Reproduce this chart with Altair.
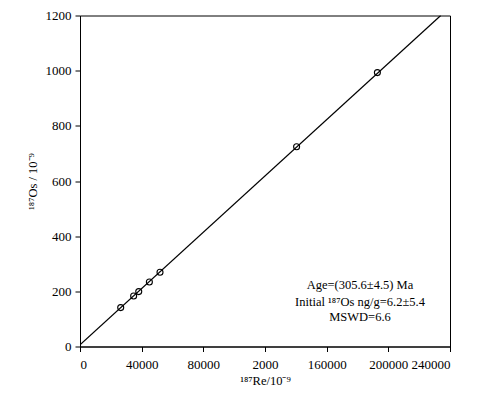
import altair as alt
import pandas as pd

# Sample data (187Re, 187Os), in 10^-9
re187 = [26400, 34800, 38100, 45000, 51900, 140500, 192900]
os187 = [141, 183, 199, 234, 269, 724, 993]

# Isochron line end points
line_x = [0, 234000]
line_y = [6.2, 1200]

# Annotation text
ann_text = ["Age=(305.6±4.5) Ma", "Initial ¹⁸⁷Os ng/g=6.2±5.4", "MSWD=6.6"]
ann_x = [181600, 181600, 181600]
ann_y = [223, 162, 108]

x_ticks = list(range(0, 240001, 20000))
y_ticks = list(range(0, 1201, 100))

pts = pd.DataFrame({"re": re187, "os": os187})
ln = pd.DataFrame({"re": line_x, "os": line_y})
ann = pd.DataFrame({"re": ann_x, "os": ann_y, "t": ann_text})

FONT = "Liberation Serif"

xscale = alt.Scale(domain=[0, 240000], nice=False, zero=True)
yscale = alt.Scale(domain=[0, 1200], nice=False, zero=True)

xaxis = alt.Axis(
    title="¹⁸⁷Re/10⁻⁹",
    values=x_ticks,
    labelExpr="datum.value % 40000 !== 0 ? '' : (datum.value === 120000 ? '2000' : format(datum.value, 'd'))",
    tickSize={"condition": {"test": "datum.value % 40000 === 0", "value": 5}, "value": 3},
    labelPadding=7,
    titlePadding=3,
    grid=False,
)
yaxis = alt.Axis(
    title="¹⁸⁷Os / 10⁻⁹",
    values=y_ticks,
    labelExpr="datum.value % 200 !== 0 ? '' : format(datum.value, 'd')",
    tickSize={"condition": {"test": "datum.value % 200 === 0", "value": 5}, "value": 3},
    labelPadding=4,
    titlePadding=6,
    grid=False,
)

line = alt.Chart(ln).mark_line(color="black", strokeWidth=1.2, clip=True).encode(
    x=alt.X("re:Q", scale=xscale, axis=xaxis),
    y=alt.Y("os:Q", scale=yscale, axis=yaxis),
)
points = alt.Chart(pts).mark_point(
    shape="circle", filled=False, color="black", size=36, strokeWidth=1.1, opacity=1
).encode(x="re:Q", y="os:Q")
texts = alt.Chart(ann).mark_text(
    font=FONT, fontSize=12.5, color="black", align="center", baseline="middle"
).encode(x="re:Q", y="os:Q", text="t:N")

chart = (
    alt.layer(line, points, texts)
    .properties(
        width=370,
        height=331,
        autosize=alt.AutoSizeParams(type="none"),
        padding={"left": 72, "top": 7.5, "right": 40, "bottom": 40},
    )
    .configure_view(stroke="black", strokeWidth=1)
    .configure_axis(
        domainColor="black",
        domainWidth=1,
        tickColor="black",
        tickWidth=1,
        labelFont=FONT,
        labelFontSize=13,
        labelColor="black",
        titleFont=FONT,
        titleFontSize=12.5,
        titleFontWeight="normal",
        titleColor="black",
    )
)

chart.save("out.html", embed_options={"renderer": "svg", "actions": False})
